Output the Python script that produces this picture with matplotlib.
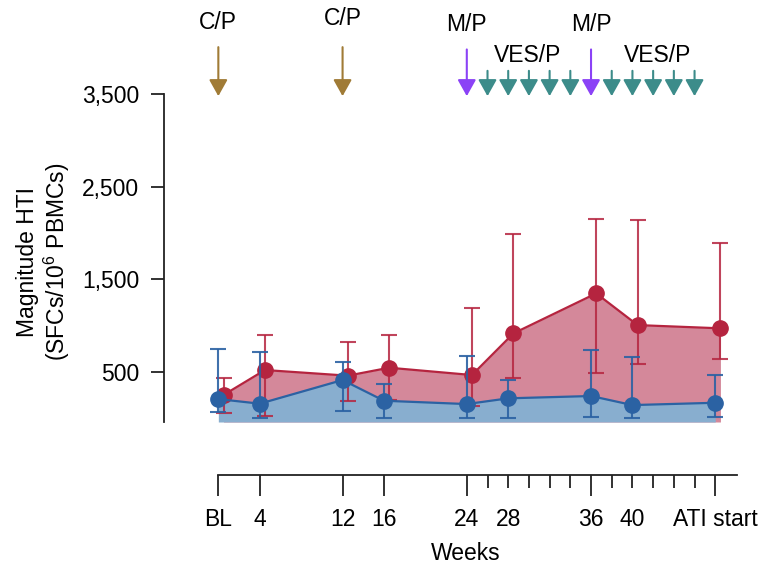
import numpy as np
import matplotlib
matplotlib.use('Agg')
import matplotlib.pyplot as plt

# HTI magnitude over time, two groups with fill under the lines

plt.rcParams['font.family'] = ['Liberation Sans', 'DejaVu Sans']
plt.rcParams['mathtext.fontset'] = 'custom'
plt.rcParams['mathtext.rm'] = 'Liberation Sans'

##############################################################################
# Data

weeks      = [0, 4, 12, 16, 24, 28, 36, 40, 48]

red_mean   = [248, 518, 457, 543, 464, 914, 1347, 1004, 969]
red_hi     = [435, 896, 817, 896, 1188, 1988, 2147, 2136, 1888]
red_lo     = [50, 24, 186, 193, 129, 435, 489, 583, 633]

blue_mean  = [204, 154, 410, 186, 150, 212, 237, 139, 164]
blue_hi    = [745, 712, 601, 370, 673, 410, 734, 662, 464]
blue_lo    = [60, 0, 75, 0, 0, 0, 13, 0, 13]

major_ticks  = [0, 4, 12, 16, 24, 36, 48]
major_labels = ['BL', '4', '12', '16', '24', '36', 'ATI start']
minor_ticks  = [26, 28, 30, 32, 34, 38, 40, 42, 44, 46]
minor_labels = ['', '28', '', '', '', '', '40', '', '', '']

y_ticks  = [500, 1500, 2500, 3500]
y_labels = ['500', '1,500', '2,500', '3,500']

cp_weeks  = [0, 12]
mp_weeks  = [24, 36]
ves_weeks = [26, 28, 30, 32, 34, 38, 40, 42, 44, 46]

##############################################################################

red       = '#B5243F'
red_fill  = '#D4889A'
blue      = '#2B62A3'
blue_fill = '#88AECF'
c_cp      = '#A07B36'
c_mp      = '#8B42F6'
c_ves     = '#3C8C8A'

FS = 16.5
W, H = 763, 565
fig = plt.figure(figsize=(W/100, H/100), dpi=100)
ax = fig.add_axes([164.3/W, 1-422/H, (737-164.3)/W, (422-94.3)/H])

ybot, ytop = -44, 3500
xleft, xright = -5.22, 50.1

x_red = np.array(weeks) + 0.5
x_blue = np.array(weeks)
rm, bm = np.array(red_mean), np.array(blue_mean)

ax.fill_between(x_red, rm, ybot, color=red_fill, lw=0, zorder=1)
ax.fill_between(x_blue, bm, ybot, color=blue_fill, lw=0, zorder=2)

ax.errorbar(x_red, rm, yerr=[rm - np.array(red_lo), np.array(red_hi) - rm],
            fmt='none', ecolor=red, elinewidth=1.5, capsize=6, capthick=1.5,
            alpha=0.85, zorder=3)
ax.plot(x_red, rm, '-o', color=red, lw=1.6, ms=11, zorder=4)

ax.errorbar(x_blue, bm, yerr=[bm - np.array(blue_lo), np.array(blue_hi) - bm],
            fmt='none', ecolor=blue, elinewidth=1.5, capsize=6, capthick=1.5,
            alpha=0.9, zorder=5)
ax.plot(x_blue, bm, '-o', color=blue, lw=1.6, ms=11, zorder=6)

ax.set_xlim(xleft, xright)
ax.set_ylim(ybot, ytop)

# Axes styling
for s in ['top', 'right']:
    ax.spines[s].set_visible(False)
ax.spines['left'].set_linewidth(1.3)
ax.spines['left'].set_color('#222222')
ax.spines['bottom'].set_linewidth(1.3)
ax.spines['bottom'].set_color('#222222')
ax.spines['bottom'].set_position(('outward', 38.2))
ax.spines['bottom'].set_bounds(0, xright)

ax.set_yticks(y_ticks)
ax.set_yticklabels(y_labels, fontsize=FS)
ax.tick_params(axis='y', length=9.6, width=1.3, pad=8.4, color='#222222')

ax.set_xticks(major_ticks)
ax.set_xticklabels(major_labels, fontsize=FS)
ax.set_xticks(minor_ticks, minor=True)
ax.set_xticklabels(minor_labels, minor=True, fontsize=FS)
ax.tick_params(axis='x', which='major', length=15, width=1.3, pad=9.0, color='#222222')
ax.tick_params(axis='x', which='minor', length=9, width=1.3, pad=15.0, color='#222222')

ax.set_xlabel('Weeks', fontsize=FS)
ax.xaxis.set_label_coords(0.527, -0.365)

fig.text(44/W, 1-262/H, 'Magnitude HTI\n(SFCs/10$^{6}$ PBMCs)', rotation=90,
         ha='center', va='center', multialignment='center', fontsize=FS,
         linespacing=1.15)

# Treatment arrows above the plot
def arrow(x, ystart, color):
    ax.annotate('', xy=(x, 3480), xytext=(x, ystart),
                arrowprops=dict(arrowstyle='-|>,head_length=0.5,head_width=0.28',
                                mutation_scale=20, color=color, lw=1.5,
                                shrinkA=0, shrinkB=0),
                annotation_clip=False)

for w, yt in zip(cp_weeks, [4280, 4315]):
    arrow(w, 4010, c_cp)
    ax.text(w, yt, 'C/P', ha='center', va='center', fontsize=FS, clip_on=False)
for w in mp_weeks:
    arrow(w, 3985, c_mp)
    ax.text(w, 4255, 'M/P', ha='center', va='center', fontsize=FS, clip_on=False)
for w in ves_weeks:
    arrow(w, 3754, c_ves)
for w in [29.9, 42.4]:
    ax.text(w, 3915, 'VES/P', ha='center', va='center', fontsize=FS, clip_on=False)

fig.savefig('out.png', dpi=100)
